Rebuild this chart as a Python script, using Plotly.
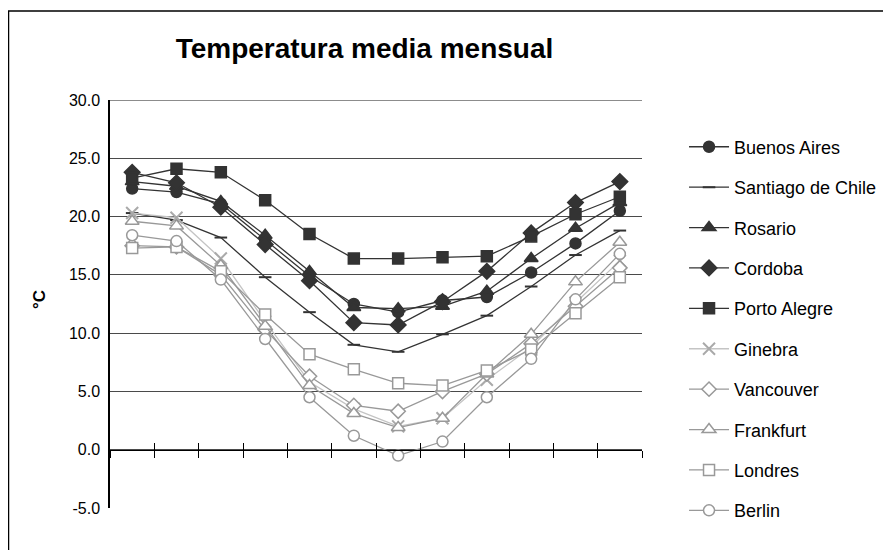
import plotly.graph_objects as go

meses = [1, 2, 3, 4, 5, 6, 7, 8, 9, 10, 11, 12]

buenos_aires = [22.4, 22.1, 21.1, 18.0, 14.9, 12.5, 11.8, 12.8, 13.1, 15.2, 17.7, 20.5]
santiago = [20.3, 19.7, 18.2, 14.8, 11.8, 9.0, 8.4, 9.9, 11.5, 14.0, 16.7, 18.8]
rosario = [23.0, 22.6, 21.3, 18.4, 15.3, 12.2, 12.1, 12.3, 13.6, 16.4, 19.0, 21.2]
cordoba = [23.8, 22.9, 20.8, 17.6, 14.5, 10.9, 10.7, 12.7, 15.3, 18.6, 21.2, 23.0]
porto_alegre = [23.3, 24.1, 23.8, 21.4, 18.5, 16.4, 16.4, 16.5, 16.6, 18.3, 20.2, 21.7]
ginebra = [20.3, 19.9, 16.4, 11.0, 5.8, 3.5, 2.0, 2.7, 6.0, 8.8, 12.6, 16.2]
vancouver = [17.5, 17.4, 15.0, 10.3, 6.3, 3.8, 3.3, 5.0, 6.5, 9.1, 12.3, 15.6]
frankfurt = [19.6, 19.2, 15.8, 10.6, 5.5, 3.1, 1.9, 2.7, 6.5, 9.9, 14.4, 17.8]
londres = [17.3, 17.4, 15.3, 11.6, 8.2, 6.9, 5.7, 5.5, 6.8, 8.6, 11.7, 14.8]
berlin = [18.4, 17.9, 14.6, 9.5, 4.5, 1.2, -0.5, 0.7, 4.5, 7.8, 12.9, 16.8]

y_ticks = [-5, 0, 5, 10, 15, 20, 25, 30]

DARK = "#333333"
GRAY = "#999999"
LIGHT = "#c4c4c4"

series = [
    ("Buenos Aires", buenos_aires, "circle", DARK, DARK, DARK, 11),
    ("Santiago de Chile", santiago, "line-ew", DARK, DARK, DARK, 9),
    ("Rosario", rosario, "triangle-up", DARK, DARK, DARK, 12),
    ("Cordoba", cordoba, "diamond", DARK, DARK, DARK, 12),
    ("Porto Alegre", porto_alegre, "square", DARK, DARK, DARK, 11),
    ("Ginebra", ginebra, "x-thin", LIGHT, "#aaaaaa", "#aaaaaa", 12),
    ("Vancouver", vancouver, "diamond", GRAY, "white", GRAY, 11),
    ("Frankfurt", frankfurt, "triangle-up", GRAY, "white", GRAY, 12),
    ("Londres", londres, "square", GRAY, "white", GRAY, 11),
    ("Berlin", berlin, "circle", GRAY, "white", GRAY, 11),
]

fig = go.Figure()
for i, (name, vals, sym, lcol, fcol, mcol, size) in enumerate(series):
    fig.add_trace(go.Scatter(
        x=meses, y=vals, name=name, mode="lines+markers",
        legendgroup=f"g{i}",
        line=dict(color=lcol, width=1.3),
        marker=dict(symbol=sym, size=size, color=fcol,
                    line=dict(color=mcol, width=1.5 if sym not in ("line-ew", "x-thin") else 2)),
    ))

# dummy trace for the inner tick axis
fig.add_trace(go.Scatter(x=[], y=[], xaxis="x2", showlegend=False, hoverinfo="skip"))

ymin, ymax = -5, 30
zero_pos = (0 - ymin) / (ymax - ymin)

axis_common = dict(
    range=[0.5, 12.5], tick0=0.5, dtick=1, showgrid=False, zeroline=False,
    showticklabels=False, showline=True, linecolor="#000000", linewidth=1.2,
    tickcolor="#000000", tickwidth=1.2, ticklen=7,
    anchor="free", position=zero_pos,
)

fig.update_layout(
    width=891, height=550,
    margin=dict(l=102, r=257, t=92, b=50),
    paper_bgcolor="white", plot_bgcolor="white",
    font=dict(family="Liberation Sans, Arial, sans-serif", color="#000000"),
    title=dict(text="<b>Temperatura media mensual</b>", font=dict(size=28),
               x=356.5 / 891, xref="container", xanchor="center",
               y=1 - 40 / 550, yanchor="middle"),
    xaxis=dict(ticks="outside", **axis_common),
    xaxis2=dict(ticks="inside", overlaying="x", side="bottom", **axis_common),
    yaxis=dict(range=[ymin, ymax], tickvals=y_ticks,
               ticktext=[f"{v:.1f}" for v in y_ticks],
               tickfont=dict(size=16), showgrid=True, gridcolor="#4a4a4a",
               gridwidth=1, zeroline=False, showline=True, linecolor="#000000",
               linewidth=1.5, ticks="", ticklabelstandoff=5),
    legend=dict(x=1.079, y=0.93, xanchor="left", yanchor="top",
                font=dict(size=18), tracegroupgap=14, itemwidth=40,
                bgcolor="rgba(0,0,0,0)"),
    showlegend=True,
    annotations=[dict(text="<b>°C</b>", textangle=-90, x=-0.153, y=0.51,
                      xref="paper", yref="paper", showarrow=False,
                      font=dict(size=17))],
    shapes=[
        dict(type="rect", xref="paper", yref="paper",
             x0=(0.5 - 102) / 532, x1=(905 - 102) / 532,
             y0=(500 - 570) / 408, y1=(500 - 3) / 408,
             line=dict(color="#000000", width=1.5), layer="below"),
        dict(type="line", xref="paper", yref="y", x0=0, x1=1, y0=ymax, y1=ymax,
             line=dict(color="#1a1a1a", width=1.2)),
    ],
)

fig.write_html("out.html")
